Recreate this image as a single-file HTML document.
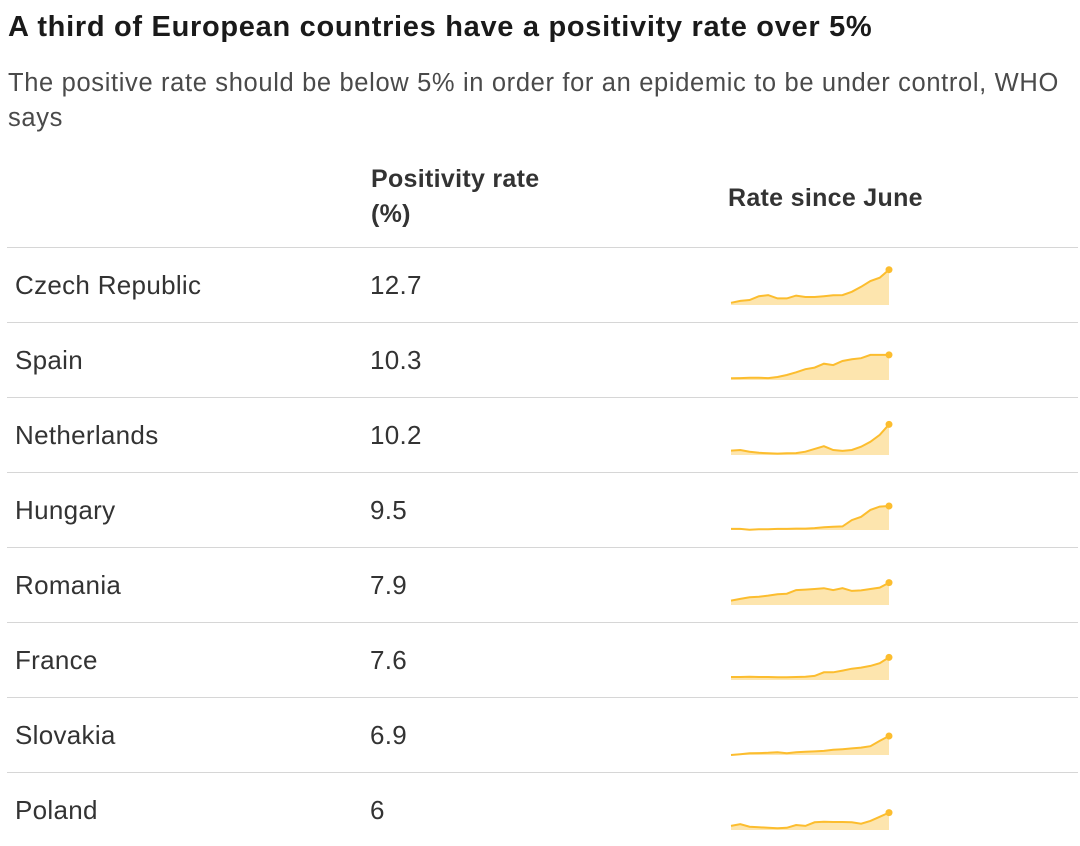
<!DOCTYPE html>
<html><head><meta charset="utf-8"><style>
body{margin:0;width:1080px;height:846px;background:#fff;font-family:"Liberation Sans",sans-serif;color:#222;position:relative;overflow:hidden}
.a{position:absolute;white-space:nowrap}
#title{left:8px;top:10px;font-size:29px;line-height:34px;font-weight:bold;color:#1a1a1a;letter-spacing:0.7px}
#sub{left:8px;top:66px;font-size:25.5px;color:#4a4a4a;line-height:35px;letter-spacing:0.65px}
.hdr{font-size:25px;font-weight:bold;color:#333;line-height:35px;letter-spacing:0.3px}
.line{position:absolute;left:7px;width:1071px;height:1px;background:#d6d6d6}
.cell{position:absolute;font-size:26px;line-height:30px;color:#333;letter-spacing:0.3px}
</style></head><body>
<div class="a" id="title">A third of European countries have a positivity rate over 5%</div>
<div class="a" id="sub">The positive rate should be below 5% in order for an epidemic to be under control, WHO<br>says</div>
<div class="a hdr" style="left:371px;top:162px">Positivity rate<br>(%)</div>
<div class="a hdr" style="left:728px;top:181px">Rate since June</div>
<div id="rows"></div>
<script>
const countries=["Czech Republic","Spain","Netherlands","Hungary","Romania","France","Slovakia","Poland"];
const rates=["12.7","10.3","10.2","9.5","7.9","7.6","6.9","6"];
const sCzech=[0.8,1.5,1.8,3.2,3.6,2.4,2.4,3.4,2.9,2.9,3.2,3.5,3.6,4.8,6.6,8.7,9.9,12.8];
const sSpain=[0.6,0.7,0.8,0.8,0.7,1.1,1.8,2.8,3.9,4.5,5.9,5.4,6.9,7.5,7.9,9.1,9.1,9.1];
const sNeth=[1.6,1.8,1.2,0.8,0.6,0.5,0.6,0.7,1.2,2.2,3.2,1.8,1.5,1.8,3,4.8,7.3,11.1];
const sHung=[0.4,0.4,0.1,0.3,0.3,0.4,0.4,0.5,0.5,0.7,1,1.2,1.3,3.6,4.8,7.3,8.5,8.7];
const sRom=[1.6,2.2,2.8,3,3.4,3.9,4.1,5.4,5.6,5.8,6.1,5.4,6.1,5.1,5.3,5.8,6.3,8.1];
const sFra=[1.1,1.1,1.2,1.1,1.1,1,1,1.1,1.2,1.5,2.8,2.8,3.4,4.1,4.5,5.1,6.1,8.2];
const sSlo=[0,0.3,0.6,0.7,0.8,1,0.6,1,1.2,1.3,1.5,1.9,2.1,2.4,2.7,3.2,5.1,6.9];
const sPol=[1.5,2.1,1.2,1,0.8,0.6,0.8,1.8,1.5,2.8,3,2.9,2.9,2.8,2.3,3.3,4.8,6.3];
const series=[sCzech,sSpain,sNeth,sHung,sRom,sFra,sSlo,sPol];
const yMax=12.8, spH=35.3, x0=731, x1=889;
const root=document.getElementById('rows');
const NS="http://www.w3.org/2000/svg";
countries.forEach((c,i)=>{
  const top=247+i*75;
  const ln=document.createElement('div');ln.className='line';ln.style.top=top+'px';
  
  
  root.appendChild(ln);
  const n=document.createElement('div');n.className='cell';n.style.left='15px';n.style.top=(top+23)+'px';n.textContent=c;
  
  
  root.appendChild(n);
  const r=document.createElement('div');r.className='cell';r.style.left='370px';r.style.top=(top+23)+'px';r.textContent=rates[i];
  
  
  root.appendChild(r);
  const s=series[i];
  const base=top+58;
  const X=k=>x0+(x1-x0)*k/(s.length-1);
  const Y=v=>base-v/yMax*spH;
  const svg=document.createElementNS(NS,'svg');
  svg.setAttribute('width','1080');svg.setAttribute('height','846');
  svg.style.position='absolute';svg.style.left='0';svg.style.top='0';
  
  
  let d=s.map((v,k)=>(k?'L':'M')+X(k).toFixed(1)+','+Y(v).toFixed(1)).join('');
  const area=document.createElementNS(NS,'path');
  area.setAttribute('d',d+'L'+x1+','+base+'L'+x0+','+base+'Z');
  area.setAttribute('fill','#fde5ae');
  
  
  svg.appendChild(area);
  const p=document.createElementNS(NS,'path');
  p.setAttribute('d',d);p.setAttribute('fill','none');p.setAttribute('stroke','#fcbd2e');p.setAttribute('stroke-width','2');
  
  
  svg.appendChild(p);
  const dot=document.createElementNS(NS,'circle');
  dot.setAttribute('cx',X(s.length-1));dot.setAttribute('cy',Y(s[s.length-1]));dot.setAttribute('r','3.5');dot.setAttribute('fill','#fcbd2e');
  
  
  svg.appendChild(dot);
  root.appendChild(svg);
});
</script>
</body></html>
